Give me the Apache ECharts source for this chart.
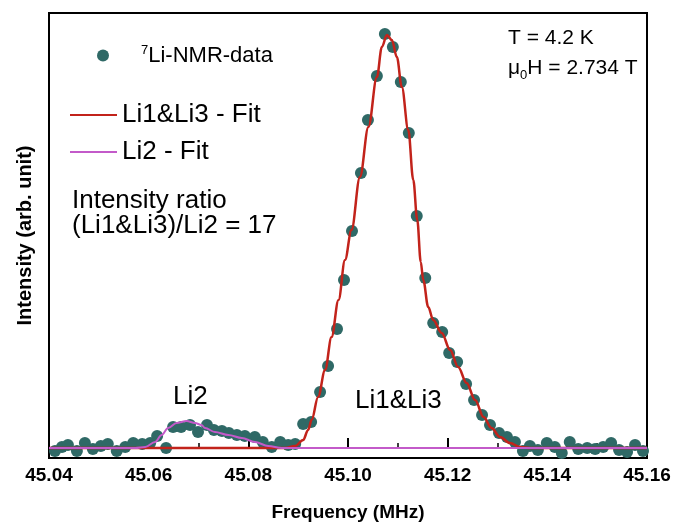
<!DOCTYPE html>
<html>
<head>
<meta charset="utf-8">
<script src="https://cdn.jsdelivr.net/npm/echarts@6/dist/echarts.min.js"></script>
<style>
  html, body { margin: 0; padding: 0; background: #fff; }
  #chart { width: 674px; height: 523px; }
</style>
</head>
<body>
<div id="chart"></div>
<script>
// x tick labels (MHz)
const freqTicks = ['45.04', '45.06', '45.08', '45.10', '45.12', '45.14', '45.16'];

// 7Li-NMR data points: frequency (MHz) / intensity (arb.)
const nmrFreq = [
  45.0412, 45.0426, 45.0438, 45.0456, 45.0472, 45.0488, 45.0504, 45.0518, 45.0536, 45.0553,
  45.0569, 45.0587, 45.0603, 45.0617, 45.0635, 45.0649, 45.0665, 45.0683, 45.0699, 45.0717,
  45.0731, 45.0747, 45.0761, 45.0777, 45.0793, 45.0813, 45.0829, 45.0847, 45.0864, 45.0880,
  45.0894, 45.0910, 45.0926, 45.0944, 45.0960, 45.0978, 45.0992, 45.1008, 45.1026, 45.1040,
  45.1058, 45.1074, 45.1090, 45.1106, 45.1122, 45.1138, 45.1155, 45.1171, 45.1189, 45.1203,
  45.1219, 45.1237, 45.1253, 45.1269, 45.1285, 45.1303, 45.1319, 45.1335, 45.1351, 45.1365,
  45.1381, 45.1399, 45.1415, 45.1429, 45.1445, 45.1462, 45.1480, 45.1496, 45.1512, 45.1528,
  45.1544, 45.1560, 45.1576, 45.1592
];
const nmrIntensity = [
  -3, 1, 3, -3, 5, -1, 2, 4, -3, 1,
  5, 4, 5, 12, 0, 21, 21, 23, 16, 23,
  18, 17, 15, 13, 12, 11, 6, 1, 6, 3,
  4, 24, 26, 56, 82, 119, 168, 217, 275, 328,
  372, 414, 401, 366, 315, 232, 170, 125, 116, 95,
  86, 64, 48, 33, 23, 15, 11, 6, -3, 2,
  -2, 5, 1, -5, 6, -1, 0, -1, 1, 5,
  -2, -4, 3, -3
];

// Li1&Li3 fit curve
const fit13Freq = [
  45.0400, 45.0874, 45.0894, 45.0910, 45.0920, 45.0927, 45.0940, 45.0954, 45.0967, 45.0981,
  45.0994, 45.1007, 45.1024, 45.1041, 45.1058, 45.1068, 45.1078, 45.1088, 45.1098, 45.1108,
  45.1121, 45.1131, 45.1139, 45.1146, 45.1151, 45.1161, 45.1171, 45.1188, 45.1205, 45.1221,
  45.1238, 45.1255, 45.1272, 45.1288, 45.1305, 45.1325, 45.1345, 45.1365, 45.1600
];
const fit13Intensity = [
  0, 0, 2, 8, 18, 28, 51, 78, 111, 148,
  188, 218, 271, 321, 371, 401, 413, 408, 391, 361,
  318, 268, 228, 186, 168, 141, 128, 115, 98, 81,
  65, 48, 31, 20, 11, 5, 1, 0, 0
];

// Li2 fit curve
const fit2Freq = [
  45.0400, 45.0573, 45.0593, 45.0613, 45.0626, 45.0639, 45.0656, 45.0676, 45.0693, 45.0706,
  45.0713, 45.0733, 45.0760, 45.0787, 45.0813, 45.0840, 45.0867, 45.1600
];
const fit2Intensity = [
  0, 0, 1, 6, 13, 20, 25, 27, 25, 23,
  20, 16, 13, 10, 6, 2, 0, 0
];

const pairs = (xs, ys) => xs.map((x, i) => [x, ys[i]]);
const FONT = '"Liberation Sans", Arial, Helvetica, sans-serif';

const chart = echarts.init(document.getElementById('chart'), null, { renderer: 'canvas' });

chart.setOption({
  animation: false,
  backgroundColor: '#fff',
  textStyle: { fontFamily: FONT, color: '#000' },
  grid: {
    left: 49, right: 27, top: 13, bottom: 65,
    outerBoundsMode: 'none',
    show: true, borderColor: '#000', borderWidth: 2
  },
  xAxis: {
    type: 'value',
    min: +freqTicks[0],
    max: +freqTicks[freqTicks.length - 1],
    interval: 0.02,
    name: 'Frequency (MHz)',
    nameLocation: 'middle',
    nameGap: 45,
    nameTextStyle: { fontFamily: FONT, fontSize: 19, fontWeight: 'bold', color: '#000' },
    axisLine: { lineStyle: { color: '#000', width: 2 } },
    axisTick: { inside: true, length: 10, lineStyle: { color: '#000', width: 2 } },
    minorTick: { show: true, splitNumber: 2, length: 5, lineStyle: { color: '#000', width: 1.5 } },
    splitLine: { show: false },
    axisLabel: {
      margin: 8, fontFamily: FONT, fontSize: 19, fontWeight: 'bold', color: '#000',
      formatter: v => freqTicks.find(t => Math.abs(+t - v) < 1e-6) || ''
    }
  },
  yAxis: {
    type: 'value',
    min: -10,
    max: 435,
    name: 'Intensity (arb. unit)',
    nameLocation: 'middle',
    nameGap: 14,
    nameTextStyle: { fontFamily: FONT, fontSize: 20, fontWeight: 'bold', color: '#000' },
    axisLine: { show: true, lineStyle: { color: '#000', width: 2 } },
    axisTick: { show: false },
    axisLabel: { show: false },
    splitLine: { show: false }
  },
  legend: [
    {
      data: ['7Li-NMR-data'],
      left: 97, top: 44, padding: 0,
      icon: 'circle', itemWidth: 12, itemHeight: 12,
      selectedMode: false,
      formatter: () => '{s|}{sup|7}{t|Li-NMR-data}',
      textStyle: {
        rich: {
          s: { width: 27 },
          sup: { fontFamily: FONT, fontSize: 13, color: '#000', verticalAlign: 'top', padding: [0, 0, 10, 0] },
          t: { fontFamily: FONT, fontSize: 22, color: '#000' }
        }
      }
    },
    {
      data: ['Li1&Li3 - Fit', 'Li2 - Fit'],
      orient: 'vertical',
      left: 69, top: 102, padding: 0,
      itemWidth: 47, itemHeight: 26, itemGap: 11,
      selectedMode: false,
      itemStyle: { opacity: 0 },
      textStyle: { fontFamily: FONT, fontSize: 26, color: '#000' }
    }
  ],
  graphic: [
    { type: 'text', left: 72, top: 188, style: { text: 'Intensity ratio', font: '26px ' + FONT, fill: '#000' } },
    { type: 'text', left: 72, top: 213, style: { text: '(Li1&Li3)/Li2 = 17', font: '26px ' + FONT, fill: '#000' } },
    { type: 'text', left: 508, top: 28, style: { text: 'T = 4.2 K', font: '21px ' + FONT, fill: '#000' } },
    {
      type: 'text', left: 508, top: 58,
      style: {
        text: '{t|μ}{sub|0}{t|H = 2.734 T}',
        rich: {
          t: { fontFamily: FONT, fontSize: 21, fill: '#000' },
          sub: { fontFamily: FONT, fontSize: 13, fill: '#000', padding: [14, 0, 0, 0] }
        }
      }
    },
    { type: 'text', left: 173, top: 384, style: { text: 'Li2', font: '26px ' + FONT, fill: '#000' } },
    { type: 'text', left: 355, top: 388, style: { text: 'Li1&Li3', font: '26px ' + FONT, fill: '#000' } }
  ],
  series: [
    {
      name: '7Li-NMR-data',
      type: 'scatter',
      data: pairs(nmrFreq, nmrIntensity),
      symbol: 'circle',
      symbolSize: 12,
      itemStyle: { color: '#2f6966', opacity: 1 }
    },
    {
      name: 'Li1&Li3 - Fit',
      type: 'line',
      data: pairs(fit13Freq, fit13Intensity),
      smooth: 0.35,
      smoothMonotone: 'x',
      symbol: 'none',
      lineStyle: { color: '#c2231b', width: 2.5 },
      itemStyle: { color: '#c2231b' }
    },
    {
      name: 'Li2 - Fit',
      type: 'line',
      data: pairs(fit2Freq, fit2Intensity),
      smooth: 0.35,
      smoothMonotone: 'x',
      symbol: 'none',
      lineStyle: { color: '#c35ac9', width: 2 },
      itemStyle: { color: '#c35ac9' }
    }
  ]
});
</script>
</body>
</html>
